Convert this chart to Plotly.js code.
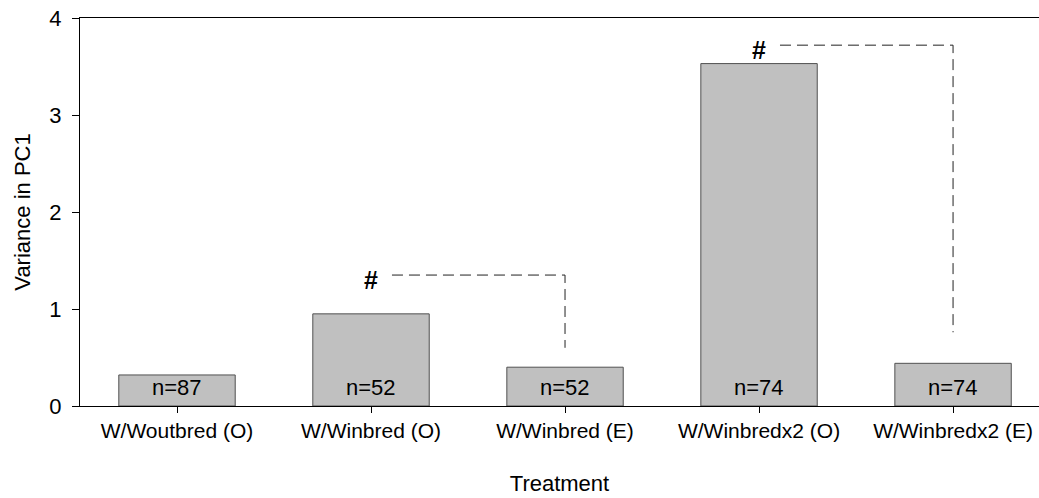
<!DOCTYPE html>
<html>
<head>
<meta charset="utf-8">
<script src="https://cdn.plot.ly/plotly-3.0.1.min.js"></script>
<style>html,body{margin:0;padding:0;background:#fff;}#chart{width:1039px;height:498px;}</style>
</head>
<body>
<div id="chart"></div>
<script>
const categories = ["W/Woutbred (O)", "W/Winbred (O)", "W/Winbred (E)", "W/Winbredx2 (O)", "W/Winbredx2 (E)"];
const variance = [0.32, 0.95, 0.40, 3.53, 0.44];
const sampleSizes = ["n=87", "n=52", "n=52", "n=74", "n=74"];
// significance brackets: from bar (O) to bar (E)
const bracketFrom = [1, 3];
const bracketTo = [2, 4];
const bracketTop = [1.35, 3.72];
const bracketEnd = [0.60, 0.76];
const bracketLabel = ["#", "#"];

const FONT = "Liberation Sans, Arial, sans-serif";
const idx = categories.map((c, i) => i);

const traces = [{
  type: "bar",
  x: idx,
  y: variance,
  width: 0.6,
  marker: {color: "#c0c0c0", line: {color: "#505050", width: 1}},
  hoverinfo: "skip",
  showlegend: false
}];

bracketFrom.forEach((f, i) => {
  traces.push({
    type: "scatter",
    mode: "lines",
    x: [f + 0.108, bracketTo[i], bracketTo[i]],
    y: [bracketTop[i], bracketTop[i], bracketEnd[i]],
    line: {color: "#222222", width: 1, dash: "11px,6px"},
    hoverinfo: "skip",
    showlegend: false
  });
});

const annotations = [];
sampleSizes.forEach((s, i) => {
  annotations.push({
    x: i, y: 0, xref: "x", yref: "y", text: s, showarrow: false,
    yanchor: "bottom", yshift: 4, font: {family: FONT, size: 22, color: "#000"}
  });
});
bracketFrom.forEach((f, i) => {
  annotations.push({
    x: f, y: bracketTop[i], xref: "x", yref: "y", text: "<b>" + bracketLabel[i] + "</b>", showarrow: false,
    yanchor: "middle", yshift: -5, font: {family: FONT, size: 25, color: "#000"}
  });
});

const layout = {
  width: 1039, height: 498,
  margin: {l: 80, r: 0, t: 18, b: 92},
  paper_bgcolor: "#ffffff",
  plot_bgcolor: "#ffffff",
  font: {family: FONT, color: "#000"},
  showlegend: false,
  xaxis: {
    range: [-0.5, 4.443],
    tickmode: "array",
    tickvals: idx,
    ticktext: categories,
    showline: true, linecolor: "#000", linewidth: 1,
    mirror: true,
    ticks: "outside", ticklen: 6, tickcolor: "#000",
    showgrid: false, zeroline: false,
    tickfont: {family: FONT, size: 21},
    title: {text: "Treatment", font: {family: FONT, size: 22}, standoff: 34}
  },
  yaxis: {
    range: [0, 4],
    tickvals: [0, 1, 2, 3, 4],
    showline: true, linecolor: "#000", linewidth: 1,
    ticks: "outside", ticklen: 7, tickcolor: "#000",
    showgrid: false, zeroline: false,
    ticklabelstandoff: 6,
    tickfont: {family: FONT, size: 22},
    title: {text: "Variance in PC1", font: {family: FONT, size: 22}, standoff: 12}
  },
  annotations: annotations
};

Plotly.newPlot("chart", traces, layout, {staticPlot: true, displayModeBar: false});
</script>
</body>
</html>
